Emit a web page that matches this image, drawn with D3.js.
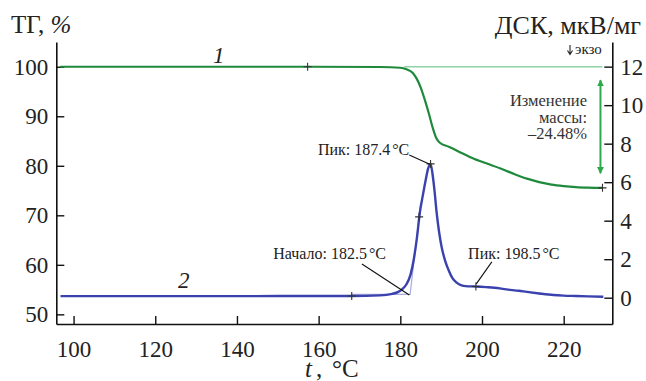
<!DOCTYPE html>
<html><head><meta charset="utf-8">
<script src="https://cdn.jsdelivr.net/npm/d3@7"></script>
<style>
svg, svg text, svg tspan { font-family: 'Liberation Serif', 'Times New Roman', Tinos !important; }
</style>
</head>
<body style="margin:0;background:#fff">
<svg id="chart" width="646" height="381" font-family="Liberation Serif"></svg>
<script>
// ---- data ----
const xTicks = [100,120,140,160,180,200,220];
const tgTicks = [50,60,70,80,90,100];
const dscTicks = [0,2,4,6,8,10,12];

const tgT = [96.7,120,140,157,175,180,181.5,183,184,185,186,187,188,188.8,189.6,192,195,197,200,205,208,211,214,217,220,223,226,229.5];
const tgV = [100,100,100,100,99.95,99.8,99.5,98.8,97.6,95.8,93.3,90.5,87.5,85.6,84.7,83.8,82.6,81.8,80.8,79.3,78.3,77.4,76.7,76.2,75.9,75.7,75.6,75.55];

const dscT = [96.8,120,140,160,168,175,178,179.5,180.5,181.5,182.5,183.3,184,184.8,185.5,186.2,186.8,187.4,187.9,188.4,188.9,189.5,190.1,191,191.8,192.8,193.8,195,196,198.5,201,203,206,209,211,214,217.5,220,223,226,229.7];
const dscV = [0.08,0.08,0.08,0.09,0.09,0.12,0.2,0.3,0.45,0.7,1.2,2.0,3.0,4.45,5.3,6.1,6.7,6.95,6.4,5.5,4.4,3.4,2.65,1.9,1.44,1.0,0.78,0.64,0.6,0.58,0.55,0.52,0.43,0.36,0.3,0.22,0.14,0.11,0.09,0.07,0.05];

const tgMarks = [[157.3,100],[229.5,75.55]];
const dscMarks = [[168.1,0.09],[184.6,4.2],[187.4,6.95],[198.5,0.58]];
const massChange = -24.48;

// ---- layout ----
const FONT = "'Liberation Serif'";
const svg = d3.select("#chart");
const L = 56.3, R = 612.3, T = 42, B = 324;
const x = d3.scaleLinear().domain([95.77, 231.9]).range([L, R]);
const yTG = d3.scaleLinear().domain([48.05, 105]).range([B, T]);
const yD = d3.scaleLinear().domain([-1.366, 13.28]).range([B, T]);

const fs = 23;
function styleAxis(g){
  g.attr("font-family",null).attr("font-size",null);
  g.select(".domain").attr("stroke","#111").attr("stroke-width",1.6);
  g.selectAll(".tick line").attr("stroke","#111").attr("stroke-width",1.4);
  g.selectAll(".tick text").style("font-family",FONT).style("font-size",fs+"px").attr("fill","#222");
}
svg.append("g").attr("transform",`translate(0,${B})`)
  .call(d3.axisBottom(x).tickValues(xTicks).tickSizeInner(-8).tickSizeOuter(0).tickPadding(17).tickFormat(d3.format("d")))
  .call(styleAxis);
svg.append("g").attr("transform",`translate(${L},0)`)
  .call(d3.axisLeft(yTG).tickValues(tgTicks).tickSizeInner(-8).tickSizeOuter(0).tickPadding(8).tickFormat(d3.format("d")))
  .call(styleAxis);
svg.append("g").attr("transform",`translate(${R},0)`)
  .call(d3.axisRight(yD).tickValues(dscTicks).tickSizeInner(-8).tickSizeOuter(0).tickPadding(8).tickFormat(d3.format("d")))
  .call(styleAxis);

// reference line at 100%
svg.append("line")
  .attr("x1",x(181)).attr("x2",x(229.5)).attr("y1",yTG(100)).attr("y2",yTG(100))
  .attr("stroke","#8fd3a6").attr("stroke-width",1.4);

// tangent lines (onset construction)
svg.append("path")
  .attr("d", d3.line().x(d=>x(d[0])).y(d=>yD(d[1]))([[168,0.17],[182.4,0.17],[185,4.9]]))
  .attr("fill","none").attr("stroke","#a9acdf").attr("stroke-width",1.2);

// curves
const lineTG = d3.line().x((d,i)=>x(tgT[i])).y(d=>yTG(d)).curve(d3.curveMonotoneX);
svg.append("path").attr("d", lineTG(tgV)).attr("fill","none").attr("stroke","#1f8a3c").attr("stroke-width",2.2);
const lineD = d3.line().x((d,i)=>x(dscT[i])).y(d=>yD(d)).curve(d3.curveMonotoneX);
svg.append("path").attr("d", lineD(dscV)).attr("fill","none").attr("stroke","#3a42ad").attr("stroke-width",2.4);

// cross markers
function cross(px,py){
  svg.append("path").attr("d",`M${px-4},${py}H${px+4}M${px},${py-4}V${py+4}`)
    .attr("stroke","#333").attr("stroke-width",1.1);
}
tgMarks.forEach(d=>cross(x(d[0]),yTG(d[1])));
dscMarks.forEach(d=>cross(x(d[0]),yD(d[1])));

// leader lines
function leader(a,b){
  svg.append("line").attr("x1",x(a[0])).attr("y1",yD(a[1])).attr("x2",x(b[0])).attr("y2",yD(b[1]))
    .attr("stroke","#111").attr("stroke-width",1.1);
}
leader([182.2,7.41],[187.2,6.93]);
leader([170.6,1.75],[182.2,0.14]);
leader([202.4,1.86],[198.6,0.72]);

function txt(xp, yp, size){
  return svg.append("text").attr("x",xp).attr("y",yp)
    .style("font-family",FONT).style("font-size",size+"px").attr("fill","#222");
}

// annotation texts
const afs = 16;
function ann(t, anchor, tx, ty, val){
  const el = txt(x(tx), yD(ty), afs).attr("text-anchor",anchor);
  el.append("tspan").text(t + val);
  el.append("tspan").attr("dx",2).text("°C");
}
ann("Пик: ","end",182.2,7.41,"187.4");
ann("Начало: ","end",176.5,2.0,"182.5");
ann("Пик: ","start",196.6,2.0,"198.5");

// mass change arrow
const defs = svg.append("defs");
defs.append("marker").attr("id","ah").attr("viewBox","0 0 10 10").attr("refX",9).attr("refY",5)
  .attr("markerWidth",7).attr("markerHeight",9).attr("markerUnits","userSpaceOnUse").attr("orient","auto-start-reverse")
  .append("path").attr("d","M0,0L10,5L0,10Z").attr("fill","#2ea84a");
svg.append("line").attr("x1",x(229)).attr("x2",x(229)).attr("y1",yTG(97.3)).attr("y2",yTG(78.5))
  .attr("stroke","#2ea84a").attr("stroke-width",2).attr("marker-start","url(#ah)").attr("marker-end","url(#ah)");
["Изменение","массы:","–"+Math.abs(massChange).toFixed(2)+"%"].forEach((s,i)=>{
  txt(587, 106+i*16.5, 16.5).attr("text-anchor","end").attr("fill","#333").text(s);
});

// axis titles
const t1 = txt(11, 33, 25);
t1.append("tspan").text("ТГ, ");
t1.append("tspan").attr("font-style","italic").text("%");
txt(641, 34, 26).attr("text-anchor","end").text("ДСК, мкВ/мг");
svg.append("path").attr("d","M570,45V54M567.5,50.5L570,54.5L572.5,50.5").attr("fill","none").attr("stroke","#222").attr("stroke-width",1.1);
txt(575, 54, 15).text("экзо");
txt(305, 377, 25).attr("font-style","italic").text("t");
txt(316, 377, 25).text(",");
txt(332, 377, 25).text("°C");

// curve labels
txt(213, 63, fs).attr("font-style","italic").text("1");
txt(178, 288, fs).attr("font-style","italic").text("2");
</script>
</body></html>
